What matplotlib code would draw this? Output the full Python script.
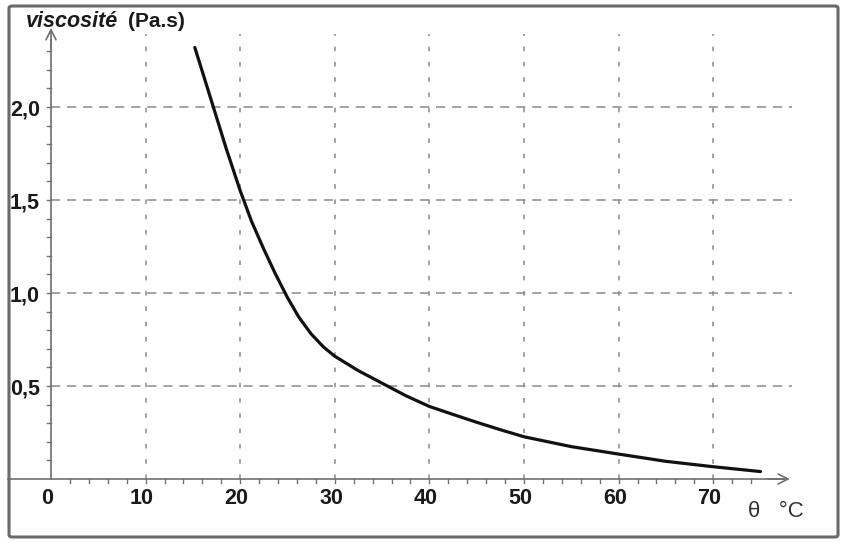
import numpy as np
import matplotlib.pyplot as plt
from matplotlib.patches import FancyBboxPatch

# values
temp = [15.2, 16.0, 17.1, 18.5, 20.0, 21.2, 22.5, 23.7, 25.0, 26.2, 27.5, 28.8,
        30.0, 32.5, 35.0, 37.5, 40.0, 42.5, 45.0, 47.5, 50.0, 55.0, 60.0, 65.0,
        70.0, 75.0]
visc = [2.32, 2.19, 2.01, 1.78, 1.55, 1.385, 1.235, 1.105, 0.975, 0.87, 0.78, 0.71,
        0.66, 0.582, 0.515, 0.448, 0.39, 0.347, 0.305, 0.265, 0.227, 0.174, 0.134,
        0.095, 0.066, 0.04]

x_ticks = [0, 10, 20, 30, 40, 50, 60, 70]
y_ticks = [0.5, 1.0, 1.5, 2.0]
y_labels = ['0,5', '1,0', '1,5', '2,0']

W, H = 848, 549
fig = plt.figure(figsize=(W / 100, H / 100), dpi=100)

# axes placed so that data origin lands at pixel (51, 479)
px_x = 9.46   # pixels per degree
px_y = 186.0  # pixels per Pa.s
xmax, ymax = 79.0, 2.42
ax = fig.add_axes([51 / W, (H - 479) / H, xmax * px_x / W, ymax * px_y / H])
ax.set_xlim(0, xmax)
ax.set_ylim(0, ymax)
ax.axis('off')

grid_col = '#8a8a8a'
axis_col = '#707070'

# grid
for yv in y_ticks:
    ax.plot([0, 78.3], [yv, yv], color=grid_col, lw=1.1, ls=(0, (6, 4.5)),
            clip_on=False)
for xv in x_ticks[1:]:
    ax.plot([xv, xv], [0, 2.39], color=grid_col, lw=1.1, ls=(0, (3, 7)),
            clip_on=False)

# axes with arrows
ax.plot([-4.5, 77.5], [0, 0], color=axis_col, lw=1.2, clip_on=False)
ax.plot([0, 0], [0, 2.36], color=axis_col, lw=1.2, clip_on=False)
ax.annotate('', xy=(78.4, 0), xytext=(75.5, 0),
            arrowprops=dict(arrowstyle='->', color=axis_col, lw=1.2,
                            mutation_scale=18), annotation_clip=False)
ax.annotate('', xy=(0, 2.44), xytext=(0, 2.3),
            arrowprops=dict(arrowstyle='->', color=axis_col, lw=1.2,
                            mutation_scale=18), annotation_clip=False)

# minor ticks
for xv in np.arange(2, 76, 2):
    ax.plot([xv, xv], [0, -0.02], color=axis_col, lw=1.0, clip_on=False)
for yv in np.arange(0.1, 2.35, 0.1):
    ax.plot([0, -0.4], [yv, yv], color=axis_col, lw=1.0, clip_on=False)

# curve
ax.plot(temp, visc, color='#111111', lw=2.3, solid_capstyle='round',
        solid_joinstyle='round')

# tick labels
fnt = 'Liberation Sans'
for xv in x_ticks:
    ax.text(xv - 0.4, -0.134, str(xv), ha='center', va='baseline', fontsize=15.5,
            fontweight='bold', family=fnt, color='#1a1a1a')
for yv, lab in zip(y_ticks, y_labels):
    ax.text(-1.15, yv - 0.015, lab, ha='right', va='center', fontsize=15.5,
            fontweight='bold', family=fnt, color='#1a1a1a')

fig.text(26 / W, 1 - 27 / H, 'viscosité', ha='left', va='baseline', fontsize=15.5,
         fontweight='bold', style='italic', family=fnt, color='#1a1a1a')
fig.text(128 / W, 1 - 27 / H, '(Pa.s)', ha='left', va='baseline', fontsize=15,
         fontweight='bold', family=fnt, color='#1a1a1a')
fig.text(748 / W, 1 - 517 / H, 'θ   °C', ha='left', va='baseline', fontsize=16,
         family=fnt, color='#333333')

# frame around the figure
frame = FancyBboxPatch((9 / W, 12 / H), 829 / W, 531 / H,
                       boxstyle='round,pad=0,rounding_size=0.004',
                       transform=fig.transFigure, fill=False,
                       edgecolor='#6a6a6a', lw=2.2)
fig.patches.append(frame)

fig.savefig('out.png', dpi=100)
